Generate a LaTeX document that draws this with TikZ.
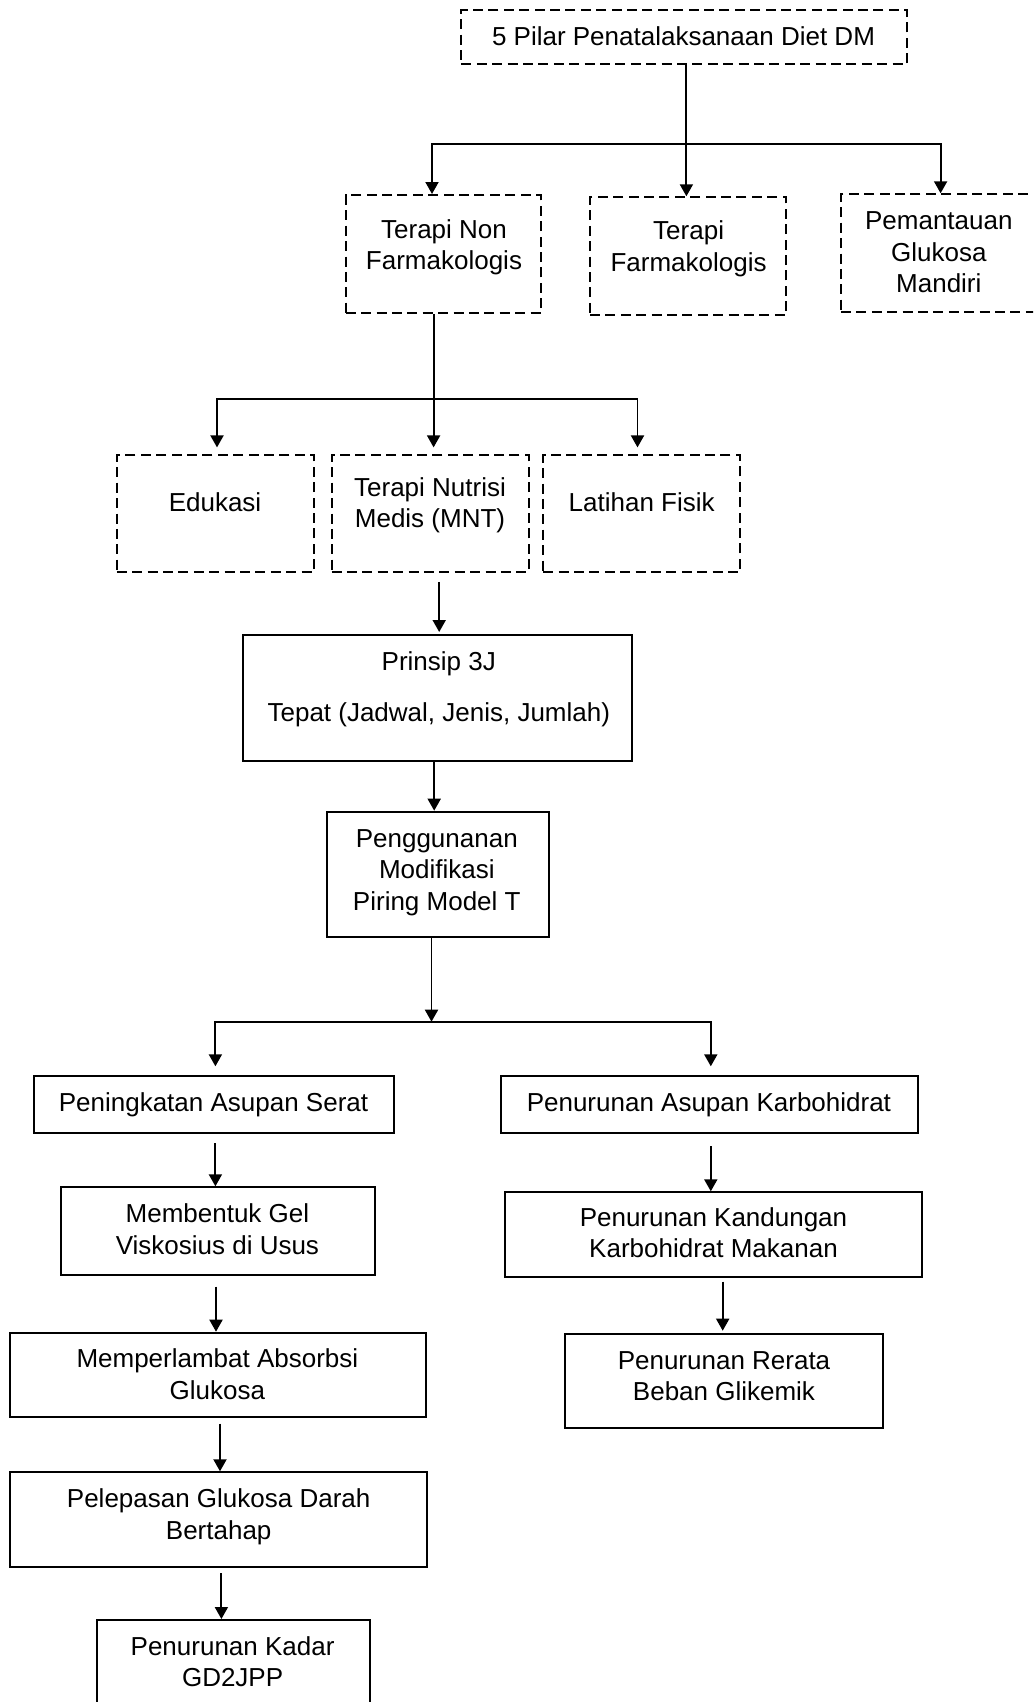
\documentclass[tikz,border=0pt]{standalone}
\usepackage{fontspec}
\setmainfont{Liberation Sans}
\usetikzlibrary{arrows.meta,fit}
\begin{document}
\begin{tikzpicture}[x=0.5pt,y=-0.5pt,
  dbox/.style={draw, dash pattern=on 5pt off 2.7pt, line width=1pt, inner sep=0pt},
  sbox/.style={draw, line width=1pt, inner sep=0pt},
  txt/.style={align=center, inner sep=0pt, yshift=-1pt, font=\fontsize{13}{15.8}\selectfont},
  arr/.style={line width=0.95pt, -{Triangle[length=6pt,width=6.5pt]}},
  ln/.style={line width=0.95pt, line cap=rect}]
\useasboundingbox (0,0) rectangle (1033,1702);
\clip (0,0) rectangle (1033,1702);

% boxes
\node[dbox, fit={(461.4,10) (907,64.3)}] (top) {};
\node[dbox, fit={(345.7,195) (540.7,313.3)}] (nonf) {};
\node[dbox, fit={(590,197.3) (786.4,315)}] (farm) {};
\node[dbox, fit={(841,194.3) (1045,312.3)}] (pem) {};
\node[dbox, fit={(116.8,455) (313.8,572.3)}] (edu) {};
\node[dbox, fit={(331.5,455) (528.5,572.3)}] (mnt) {};
\node[dbox, fit={(543.2,455) (739.8,572.3)}] (lat) {};
\node[sbox, fit={(243.1,635) (631.6,760.7)}] (prin) {};
\node[sbox, fit={(327.4,811.7) (548.8,936.7)}] (peng) {};
\node[sbox, fit={(34.3,1075.7) (394,1133.3)}] (serat) {};
\node[sbox, fit={(501.3,1075.7) (917.7,1133.3)}] (karbo) {};
\node[sbox, fit={(60.6,1187.3) (374.9,1275)}] (gel) {};
\node[sbox, fit={(505.3,1192.3) (922.3,1277.3)}] (kand) {};
\node[sbox, fit={(9.9,1332.7) (426.2,1416.7)}] (lambat) {};
\node[sbox, fit={(565.2,1334.3) (883.4,1427.7)}] (rerata) {};
\node[sbox, fit={(9.9,1472.3) (426.9,1566.7)}] (lepas) {};
\node[sbox, fit={(96.8,1620) (370.2,1720)}] (kadar) {};

% texts
\node[txt] (tTop) at (683.5,37.2) {\strut 5 Pilar Penatalaksanaan Diet DM\strut};
\node[txt] (tNonf) at (444,245.8) {\strut Terapi Non\\Farmakologis\strut};
\node[txt] (tFarm) at (688.6,247.2) {\strut Terapi\\Farmakologis\strut};
\node[txt] (tPem) at (938.8,252.8) {\strut Pemantauan\\Glukosa\\Mandiri\strut};
\node[txt] (tEdu) at (215,503.3) {\strut Edukasi\strut};
\node[txt] (tMnt) at (430,503.5) {\strut Terapi Nutrisi\\Medis (MNT)\strut};
\node[txt] (tLat) at (641.7,503.3) {\strut Latihan Fisik\strut};
\node[txt] (tPrin) at (438.8,687.2) {\strut Prinsip 3J\\[9.7pt]Tepat (Jadwal, Jenis, Jumlah)\strut};
\node[txt] (tPeng) at (436.8,870.3) {\strut Penggunanan\\Modifikasi\\Piring Model T\strut};
\node[txt] (tSerat) at (213.5,1102.7) {\strut Peningkatan Asupan Serat\strut};
\node[txt] (tKarbo) at (708.9,1102.7) {\strut Penurunan Asupan Karbohidrat\strut};
\node[txt] (tGel) at (217.4,1230) {\strut Membentuk Gel\\Viskosius di Usus\strut};
\node[txt] (tKand) at (713.5,1233.8) {\strut Penurunan Kandungan\\Karbohidrat Makanan\strut};
\node[txt] (tLambat) at (217.4,1375) {\strut Memperlambat Absorbsi\\Glukosa\strut};
\node[txt] (tRerata) at (724,1376.7) {\strut Penurunan Rerata\\Beban Glikemik\strut};
\node[txt] (tLepas) at (218.7,1515) {\strut Pelepasan Glukosa Darah\\Bertahap\strut};
\node[txt] (tKadar) at (232.6,1662.8) {\strut Penurunan Kadar\\GD2JPP\strut};

% connectors level 1
\coordinate (c1) at (686.4,144.3);
\coordinate (b1L) at (432,144.3);
\coordinate (b1R) at (940.6,144.3);
\draw[arr] (top.south -| c1) -- (farm.north -| c1);
\draw[ln] (b1L) -- (b1R);
\draw[arr] (b1L) -- (nonf.north -| b1L);
\draw[arr] (b1R) -- (pem.north -| b1R);

% level 2
\coordinate (c2) at (433.6,399);
\coordinate (b2L) at (217,399);
\coordinate (b2R) at (637.5,399);
\draw[arr, shorten >=3.3pt] (nonf.south -| c2) -- (mnt.north -| c2);
\draw[ln] (b2L) -- (b2R);
\draw[arr, shorten >=3.3pt] (b2L) -- (edu.north -| b2L);
\draw[arr, shorten >=3.3pt] (b2R) -- (lat.north -| b2R);

% main chain
\coordinate (c3) at (439.2,600);
\draw[arr, shorten <=4.3pt, shorten >=1pt] (mnt.south -| c3) -- (prin.north -| c3);
\coordinate (c4) at (434.2,780);
\draw[arr] (prin.south -| c4) -- (peng.north -| c4);
\coordinate (c5) at (431.5,1021.7);
\coordinate (b3L) at (215.4,1021.7);
\coordinate (b3R) at (710.8,1021.7);
\draw[arr] (peng.south -| c5) -- (c5);
\draw[ln] (b3L) -- (b3R);
\draw[arr, shorten >=4.2pt] (b3L) -- (serat.north -| b3L);
\draw[arr, shorten >=4.2pt] (b3R) -- (karbo.north -| b3R);

% left chain
\draw[arr, shorten <=4.5pt] (serat.south -| b3L) -- (gel.north -| b3L);
\coordinate (c6) at (216,1300);
\draw[arr, shorten <=5.3pt] (gel.south -| c6) -- (lambat.north -| c6);
\coordinate (c8) at (220,1440);
\draw[arr, shorten <=3pt] (lambat.south -| c8) -- (lepas.north -| c8);
\coordinate (c9) at (221.4,1590);
\draw[arr, shorten <=2.8pt] (lepas.south -| c9) -- (kadar.north -| c9);

% right chain
\draw[arr, shorten <=6pt] (karbo.south -| b3R) -- (kand.north -| b3R);
\coordinate (c7) at (722.7,1300);
\draw[arr, shorten <=1.7pt, shorten >=1.3pt] (kand.south -| c7) -- (rerata.north -| c7);
\end{tikzpicture}
\end{document}
